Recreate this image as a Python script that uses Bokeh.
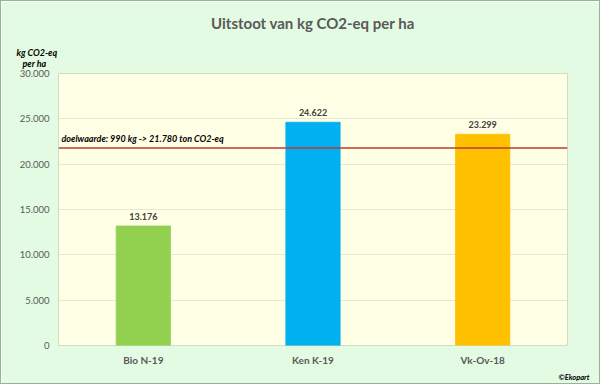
from bokeh.plotting import figure
from bokeh.models import ColumnDataSource, Span, Label, Title, FixedTicker, CustomJSTickFormatter
from bokeh.embed import file_html
from bokeh.resources import INLINE
from bokeh.core.properties import value

categories = ["Bio N-19", "Ken K-19", "Vk-Ov-18"]
values = [13176, 24622, 23299]
colors = ["#92D050", "#00B0F0", "#FFC000"]
labels = ["13.176", "24.622", "23.299"]
target = 21780
target_label = "doelwaarde: 990 kg -> 21.780 ton CO2-eq"
y_ticks = [0, 5000, 10000, 15000, 20000, 25000, 30000]

FONT = "Lato"
GREY = "#595959"

src = ColumnDataSource(dict(cat=categories, val=values, col=colors, lab=labels))

p = figure(x_range=categories, y_range=(0, 30000),
           width=598, height=382,
           frame_width=509, frame_height=272,
           min_border_left=57, min_border_right=32, min_border_top=72, min_border_bottom=38,
           output_backend="svg", toolbar_location=None, title_location=None,
           background_fill_color="#FFFFE6", border_fill_color="#E3FBE3",
           outline_line_color="#D5D9C5", outline_line_width=1)
p.styles = {"border": "1px solid #9DB09D"}

p.vbar(x="cat", top="val", width=0.32, source=src, fill_color="col",
       line_color="col", line_alpha=0.8)

p.text(x="cat", y="val", text="lab", source=src, text_align="center",
       text_baseline="bottom", y_offset=-6, text_font=value(FONT),
       text_font_style="bold", text_font_size="9px", text_color="#404040")

p.add_layout(Span(location=target, dimension="width", line_color="#BF3A30",
                  line_width=1.5))
p.add_layout(Label(x=3, y=target, x_units="screen", y_units="data", y_offset=4,
                   text=target_label, text_font=FONT, text_font_style="bold italic",
                   text_font_size="9px", text_color="#000000"))

p.yaxis.ticker = FixedTicker(ticks=y_ticks)
p.yaxis.formatter = CustomJSTickFormatter(code="""
return tick.toFixed(0).replace(/\\B(?=(\\d{3})+(?!\\d))/g, '.');
""")
for ax in (p.xaxis, p.yaxis):
    ax.axis_line_color = None
    ax.major_tick_line_color = None
    ax.minor_tick_line_color = None
    ax.major_tick_out = 0
    ax.major_tick_in = 0
    ax.minor_tick_out = 0
    ax.minor_tick_in = 0
    ax.major_label_text_font = FONT
    ax.major_label_text_color = GREY
p.yaxis.major_label_text_font_size = "9.5px"
p.xaxis.major_label_text_font_size = "10px"
p.yaxis.major_label_standoff = 9
p.xaxis.major_label_standoff = 8
p.xaxis.major_label_text_font_style = "bold"

p.xgrid.grid_line_color = None
p.ygrid.grid_line_color = "#E8E8D2"
p.ygrid.grid_line_width = 1

# stacked titles above the frame: nearest first
p.add_layout(Title(text="kg CO2-eq\n\u00a0\u00a0\u00a0per ha", align="left", offset=-42,
                   standoff=10, text_line_height=1.0,
                   text_font=FONT, text_font_style="bold italic",
                   text_font_size="9px", text_color="#000000"), "above")
p.add_layout(Title(text="Uitstoot van kg CO2-eq per ha", align="center", standoff=15,
                   text_font=FONT, text_font_style="bold",
                   text_font_size="15px", text_color=GREY), "above")
p.add_layout(Title(text="©Ekopart", align="right", offset=-22, standoff=4,
                   text_font=FONT, text_font_style="bold italic",
                   text_font_size="7.5px", text_color="#000000"), "below")

open("out.html", "w").write(file_html(p, INLINE))
